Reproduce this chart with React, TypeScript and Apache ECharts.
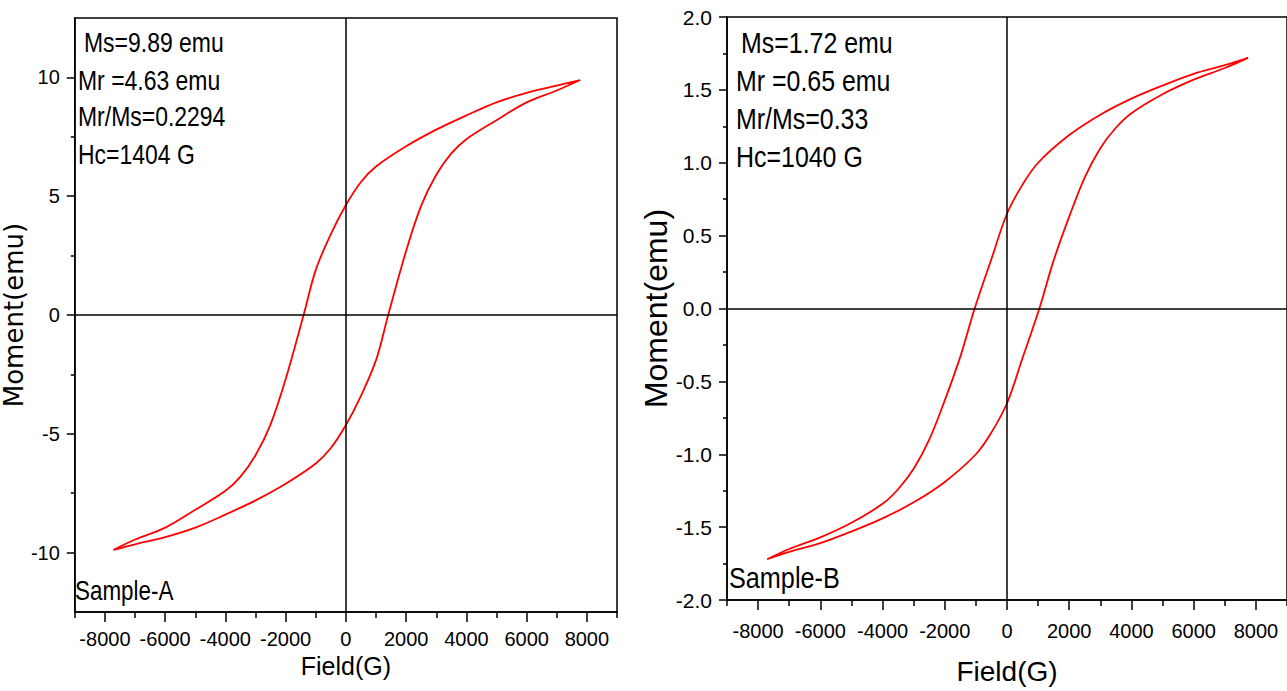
import React, { useEffect, useRef } from "react";
import * as echarts from "echarts";

// ---------- Sample A data ----------
const fieldA_upper = [7780, 7000, 6000, 5000, 4000, 3000, 2000, 1000, 500, 0, -500, -1000, -1404, -2000, -2500, -3000, -3500, -4000, -5000, -6000, -7000, -7720];
const momentA_upper = [9.89, 9.65, 9.35, 8.95, 8.4, 7.8, 7.1, 6.25, 5.6, 4.63, 3.4, 1.9, 0, -2.7, -4.6, -5.9, -6.8, -7.4, -8.2, -8.95, -9.45, -9.89];
const fieldA_lower = [-7720, -7000, -6000, -5000, -4000, -3000, -2000, -1000, -500, 0, 500, 1000, 1404, 2000, 2500, 3000, 3500, 4000, 5000, 6000, 7000, 7780];
const momentA_lower = [-9.89, -9.65, -9.35, -8.95, -8.4, -7.8, -7.1, -6.25, -5.6, -4.63, -3.4, -1.9, 0, 2.7, 4.6, 5.9, 6.8, 7.4, 8.2, 8.95, 9.45, 9.89];

// ---------- Sample B data ----------
const fieldB_upper = [7750, 7000, 6000, 5000, 4000, 3000, 2000, 1000, 500, 0, -500, -1040, -1500, -2000, -2500, -3000, -3500, -4000, -5000, -6000, -7000, -7710];
const momentB_upper = [1.72, 1.67, 1.61, 1.53, 1.44, 1.33, 1.19, 1.0, 0.85, 0.65, 0.34, 0, -0.33, -0.63, -0.9, -1.1, -1.24, -1.34, -1.47, -1.57, -1.65, -1.72];
const fieldB_lower = [-7710, -7000, -6000, -5000, -4000, -3000, -2000, -1000, -500, 0, 500, 1040, 1500, 2000, 2500, 3000, 3500, 4000, 5000, 6000, 7000, 7750];
const momentB_lower = [-1.72, -1.67, -1.61, -1.53, -1.44, -1.33, -1.19, -1.0, -0.85, -0.65, -0.34, 0, 0.33, 0.63, 0.9, 1.1, 1.24, 1.34, 1.47, 1.57, 1.65, 1.72];

// ---------- ticks ----------
const xMajorTicks = [-8000, -6000, -4000, -2000, 0, 2000, 4000, 6000, 8000];
const xMinorTicks = [-9000, -7000, -5000, -3000, -1000, 1000, 3000, 5000, 7000, 9000];
const yA_major = [-10, -5, 0, 5, 10];
const yA_minor = [-7.5, -2.5, 2.5, 7.5];
const yB_major = [-2, -1.5, -1, -0.5, 0, 0.5, 1, 1.5, 2];
const yB_minor = [-1.75, -1.25, -0.75, -0.25, 0.25, 0.75, 1.25, 1.75];

// ---------- texts ----------
const notesA = ["Ms=9.89 emu", "Mr =4.63 emu", "Mr/Ms=0.2294", "Hc=1404 G"];
const notesB = ["Ms=1.72 emu", "Mr =0.65 emu", "Mr/Ms=0.33", "Hc=1040 G"];
const sampleA = "Sample-A";
const sampleB = "Sample-B";
const xTitle = "Field(G)";
const yTitle = "Moment(emu)";

const FR = "'Liberation Sans',Arial,sans-serif";

function loop(fu: number[], mu: number[], fl: number[], ml: number[]) {
  const d: number[][] = [];
  fu.forEach((f, i) => d.push([f, mu[i]]));
  fl.forEach((f, i) => { if (i > 0) d.push([f, ml[i]]); });
  return d;
}

export default function App() {
  const ref = useRef<HTMLDivElement>(null);
  useEffect(() => {
    if (!ref.current) return;
    const chart = echarts.init(ref.current, null, { renderer: "svg" });
    const black = "#000";
    const mkX = (g: number, labelSize: number, margin: number, nameSize: number, nameGap: number) => [
      {
        type: "value", gridIndex: g, position: "bottom", min: -9000, max: 9000,
        axisLine: { show: true, onZero: false, lineStyle: { color: black, width: 1.5 } },
        axisTick: { show: true, customValues: xMajorTicks, length: 10, lineStyle: { color: black, width: 1.5 } },
        axisLabel: {
          show: true, customValues: xMajorTicks, interval: 0, hideOverlap: false, showMinLabel: true, showMaxLabel: true,
          color: black, fontSize: labelSize, fontFamily: FR, margin, formatter: (v: number) => String(v),
        },
        splitLine: { show: false },
        name: xTitle, nameLocation: "middle", nameGap,
        nameTextStyle: { color: black, fontSize: nameSize, fontFamily: FR },
      },
      {
        type: "value", gridIndex: g, position: "bottom", min: -9000, max: 9000,
        axisLine: { show: false, onZero: false },
        axisTick: { show: true, customValues: xMinorTicks, length: 6, lineStyle: { color: black, width: 1.5 } },
        axisLabel: { show: false },
        splitLine: { show: false },
      },
    ];
    const mkY = (g: number, min: number, max: number, major: number[], minor: number[], labelSize: number, fmt: (v: number) => string, nameFont: string, nameSize: number, nameGap: number) => [
      {
        type: "value", gridIndex: g, position: "left", min, max,
        axisLine: { show: true, onZero: false, lineStyle: { color: black, width: 1.5 } },
        axisTick: { show: true, customValues: major, length: 8, lineStyle: { color: black, width: 1.5 } },
        axisLabel: {
          show: true, customValues: major, interval: 0, hideOverlap: false, showMinLabel: true, showMaxLabel: true,
          color: black, fontSize: labelSize, fontFamily: FR, margin: 15, formatter: fmt,
        },
        splitLine: { show: false },
        name: yTitle, nameLocation: "middle", nameGap,
        nameTextStyle: { color: black, fontSize: nameSize, fontFamily: nameFont },
      },
      {
        type: "value", gridIndex: g, position: "left", min, max,
        axisLine: { show: false, onZero: false },
        axisTick: { show: true, customValues: minor, length: 4, lineStyle: { color: black, width: 1.5 } },
        axisLabel: { show: false },
        splitLine: { show: false },
      },
    ];
    const mkSeries = (g: number, data: number[][]) => ({
      type: "line", xAxisIndex: 2 * g, yAxisIndex: 2 * g, data,
      symbol: "none", showSymbol: false, smooth: 0.35,
      lineStyle: { color: "#ff0000", width: 1.8 }, itemStyle: { color: "#ff0000" },
      markLine: {
        silent: true, symbol: ["none", "none"], label: { show: false },
        lineStyle: { color: black, type: "solid", width: 1.5 },
        data: [{ xAxis: 0 }, { yAxis: 0 }],
      },
    });
    const txt = (x: number, y: number, text: string, size: number, sx: number) => ({
      type: "text", x, y, scaleX: sx,
      style: { text, fill: black, fontSize: size, fontFamily: FR, verticalAlign: "middle" },
    });
    const option: any = {
      animation: false,
      backgroundColor: "#fff",
      grid: [
        { left: 73, top: 18, width: 544, height: 594, show: true, borderColor: black, borderWidth: 1.5, backgroundColor: "transparent" },
        { left: 727, top: 17, width: 567, height: 583, show: true, borderColor: black, borderWidth: 1.5, backgroundColor: "transparent" },
      ],
      xAxis: [...mkX(0, 20, 17, 25, 40), ...mkX(1, 20, 21, 28, 57)],
      yAxis: [
        ...mkY(0, -12.5, 12.5, yA_major, yA_minor, 20, (v: number) => String(v), "'DejaVu Sans',sans-serif", 26, 24),
        ...mkY(1, -2, 2, yB_major, yB_minor, 21, (v: number) => v.toFixed(1), FR, 32, 37),
      ],
      series: [
        mkSeries(0, loop(fieldA_upper, momentA_upper, fieldA_lower, momentA_lower)),
        mkSeries(1, loop(fieldB_upper, momentB_upper, fieldB_lower, momentB_lower)),
      ],
      graphic: [
        txt(84, 42, notesA[0], 28, 0.82),
        txt(78, 80, notesA[1], 28, 0.82),
        txt(78, 116, notesA[2], 28, 0.82),
        txt(78, 154, notesA[3], 28, 0.82),
        txt(75, 591, sampleA, 27, 0.83),
        txt(741, 43, notesB[0], 29, 0.86),
        txt(736, 81, notesB[1], 29, 0.86),
        txt(736, 119, notesB[2], 29, 0.86),
        txt(736, 157, notesB[3], 29, 0.86),
        txt(729, 578, sampleB, 29, 0.87),
      ],
    };
    chart.setOption(option);
    return () => chart.dispose();
  }, []);
  return <div ref={ref} style={{ position: "absolute", left: 0, top: 0, width: 1287, height: 691, overflow: "hidden" }} />;
}
